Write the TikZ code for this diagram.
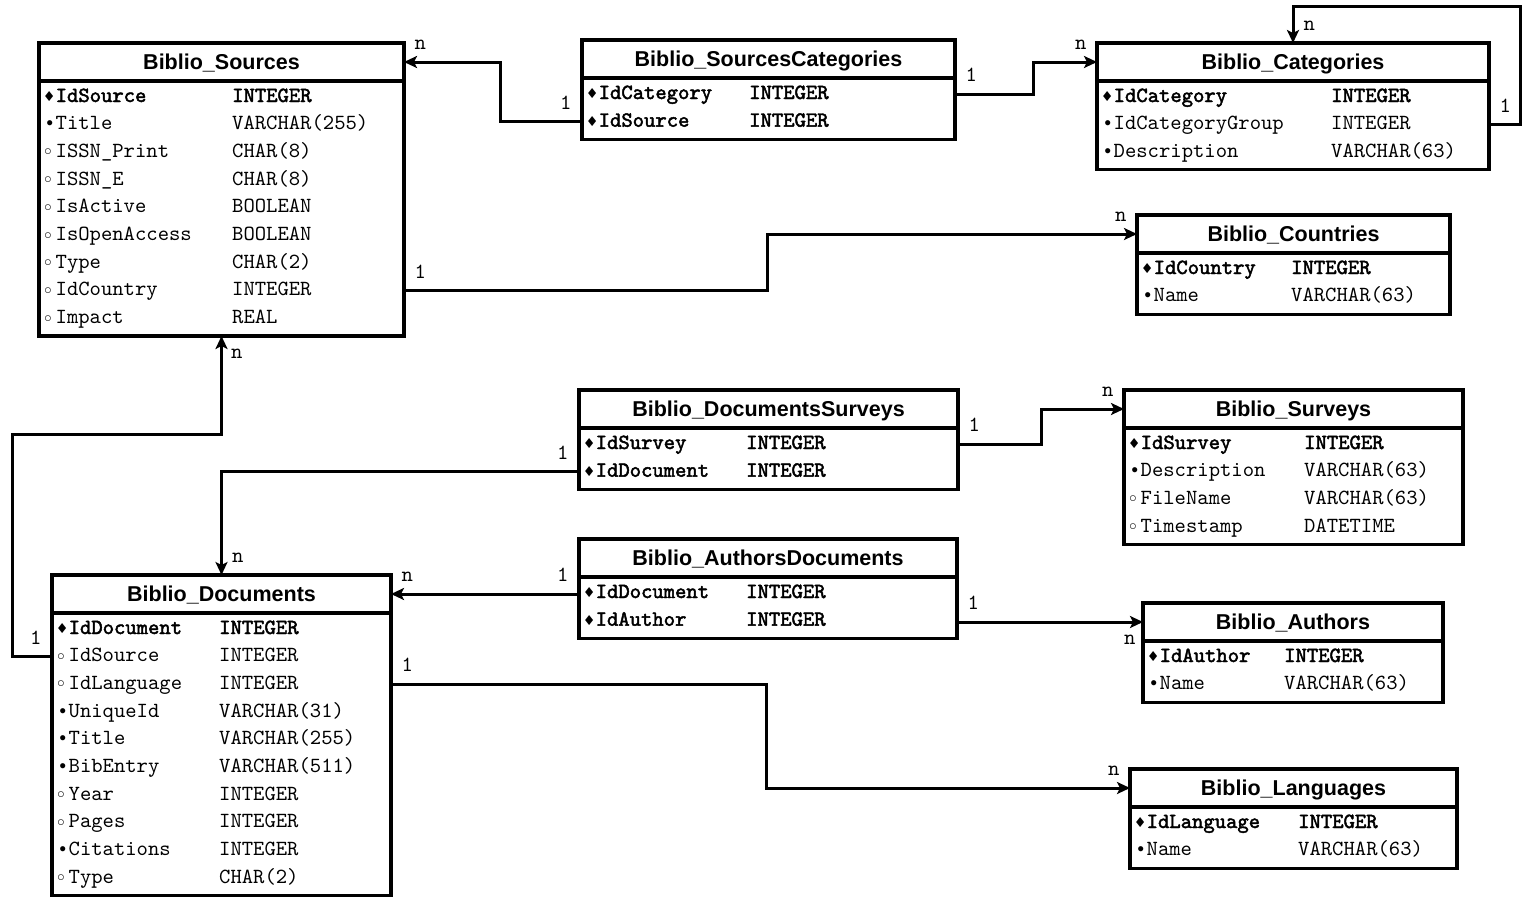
\documentclass[tikz,border=0pt]{standalone}
\usepackage{fontspec}
\setsansfont{Liberation Sans}
\setmonofont{lmmono10-regular.otf}[BoldFont=lmmono10-regular.otf,BoldFeatures={FakeBold=2.2}]
\newfontfamily\markfont{Liberation Mono}
\usetikzlibrary{positioning,arrows.meta,calc}

% field markers: p = key, r = required, o = optional
\newcommand\mrk[1]{\makebox[11.5pt][l]{\markfont #1}}
\newcommand\fldp[1]{\mrk{\fontsize{17}{17}\selectfont\raisebox{0.5pt}{♦}}\textbf{#1}}
\newcommand\fldr[1]{\mrk{\fontsize{19}{19}\selectfont •}#1}
\newcommand\fldo[1]{\mrk{\fontsize{13}{13}\selectfont\raisebox{1.5pt}{○}}#1}
\newcommand\typp[1]{\textbf{#1}}
\newcommand\typr[1]{#1}
\newcommand\typo[1]{#1}

% name, position, width, type column, rows, title, fields
\newcommand\dbtable[7]{%
  \node[thead,minimum width=#3pt] (#1) at (#2) {#6};
  \node[tbody,minimum width=#3pt,minimum height={(27.7*#5+5.7)*1pt},below=0pt of #1] (#1B) {};
  \foreach \k/\f/\t [count=\i] in {#7}{
    \node[fld] (#1-\i) at ([xshift=5pt,yshift={-(27.7*\i-6.7)*1pt}]#1B.north west) {\csname fld\k\endcsname{\f}};
    \node[fld] at ([xshift=#4pt-5pt]#1-\i.base west) {\csname typ\k\endcsname{\t}};
  }%
}

\begin{document}
\begin{tikzpicture}[
  x=1pt,y=-1pt,
  thead/.style={draw,line width=3.2pt,outer sep=0pt,inner sep=0pt,anchor=north west,
                minimum height=38pt,text height=15.5pt,text depth=0pt,
                font=\sffamily\bfseries\fontsize{21.5}{24}\selectfont},
  tbody/.style={draw,line width=3.2pt,outer sep=0pt,inner sep=0pt},
  fld/.style={anchor=base west,inner sep=0pt,text height=14pt,text depth=4pt,
              font=\ttfamily\fontsize{21.6}{24}\selectfont},
  card/.style={inner sep=0pt,font=\ttfamily\fontsize{21.6}{24}\selectfont},
  cardNE/.style={card,anchor=south west,xshift=9pt,yshift=11pt},
  cardNW/.style={card,anchor=south east,xshift=-9pt,yshift=11pt},
  cardSE/.style={card,anchor=north west,xshift=8pt,yshift=-12pt},
  cardSW/.style={card,anchor=north east,xshift=-6pt,yshift=-12pt},
  arr/.style={-{Stealth[length=13pt,width=12pt,inset=3pt]},line width=3pt},
]
\useasboundingbox (0,0) rectangle (1523,897);

\dbtable{src}{39,43}{365}{193}{9}{Biblio\_Sources}
  {p/IdSource/INTEGER, r/Title/VARCHAR(255), o/ISSN\_Print/CHAR(8), o/ISSN\_E/CHAR(8),
   o/IsActive/BOOLEAN, o/IsOpenAccess/BOOLEAN, o/Type/CHAR(2), o/IdCountry/INTEGER, o/Impact/REAL}
\dbtable{sc}{582,40}{373}{167}{2}{Biblio\_SourcesCategories}
  {p/IdCategory/INTEGER, p/IdSource/INTEGER}
\dbtable{cat}{1097,43}{392}{234}{3}{Biblio\_Categories}
  {p/IdCategory/INTEGER, r/IdCategoryGroup/INTEGER, r/Description/VARCHAR(63)}
\dbtable{cty}{1137,215}{313}{154}{2}{Biblio\_Countries}
  {p/IdCountry/INTEGER, r/Name/VARCHAR(63)}
\dbtable{ds}{579,390}{379}{167}{2}{Biblio\_DocumentsSurveys}
  {p/IdSurvey/INTEGER, p/IdDocument/INTEGER}
\dbtable{sur}{1124,390}{339}{180}{4}{Biblio\_Surveys}
  {p/IdSurvey/INTEGER, r/Description/VARCHAR(63), o/FileName/VARCHAR(63), o/Timestamp/DATETIME}
\dbtable{ad}{579,539}{378}{167}{2}{Biblio\_AuthorsDocuments}
  {p/IdDocument/INTEGER, p/IdAuthor/INTEGER}
\dbtable{aut}{1143,603}{300}{141}{2}{Biblio\_Authors}
  {p/IdAuthor/INTEGER, r/Name/VARCHAR(63)}
\dbtable{lng}{1130,769}{327}{168}{2}{Biblio\_Languages}
  {p/IdLanguage/INTEGER, r/Name/VARCHAR(63)}
\dbtable{doc}{52,575}{339}{167}{10}{Biblio\_Documents}
  {p/IdDocument/INTEGER, o/IdSource/INTEGER, o/IdLanguage/INTEGER, r/UniqueId/VARCHAR(31),
   r/Title/VARCHAR(255), r/BibEntry/VARCHAR(511), o/Year/INTEGER, o/Pages/INTEGER,
   r/Citations/INTEGER, o/Type/CHAR(2)}

% relations
\draw[arr] (scB.west |- sc-2) node[cardNW] {1} -- ++(-82,0) |- (src.east) node[cardNE] {n};
\draw[arr] (scB.east |- sc-1) node[cardNE] {1} -- ++(78,0) |- (cat.west) node[cardNW] {n};
\draw[arr] (catB.east |- cat-2) node[cardNE] {1} -- ++(31,0) -- ++(0,-118) -| (cat.north) node[cardNE] {n};
\draw[arr] (srcB.east |- src-8) node[cardNE] {1} -- ++(363,0) |- (cty.west) node[cardNW] {n};
\draw[arr] (docB.west |- doc-2) node[cardNW] {1} -- ++(-40,0) -- ++(0,-222) -| (srcB.south) node[cardSE] {n};
\draw[arr] (dsB.west |- ds-2) node[cardNW] {1} -| (doc.north) node[cardNE] {n};
\draw[arr] (dsB.east |- ds-1) node[cardNE] {1} -- ++(83,0) |- (sur.west) node[cardNW] {n};
\draw[arr] (adB.west |- doc.east) node[cardNW] {1} -- (doc.east) node[cardNE] {n};
\draw[arr] (adB.east |- aut.west) node[cardNE] {1} -- (aut.west) node[cardSW] {n};
\draw[arr] (docB.east |- doc-3) node[cardNE] {1} -- ++(375,0) |- (lng.west) node[cardNW] {n};
\end{tikzpicture}
\end{document}
